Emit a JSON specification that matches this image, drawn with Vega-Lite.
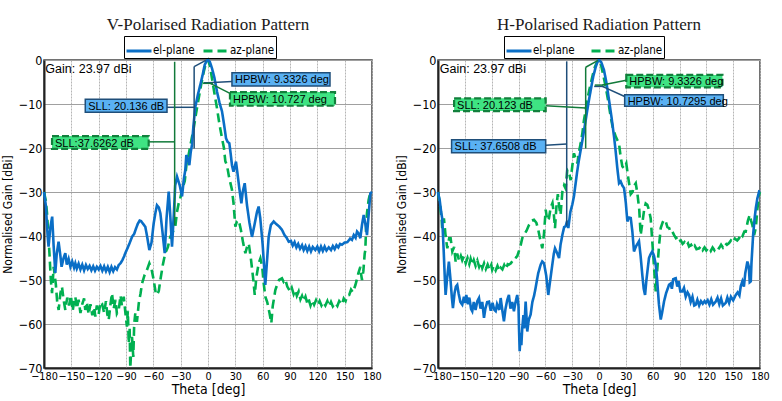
{
  "$schema": "https://vega.github.io/schema/vega-lite/v6.json",
  "background": "white",
  "padding": {"left": 0, "top": 14, "right": 5, "bottom": 0},
  "spacing": 11,
  "resolve": {"scale": {"color": "independent", "strokeDash": "independent"}, "legend": {"color": "independent", "strokeDash": "independent"}},
  "config": {
    "font": "Liberation Sans",
    "view": {"stroke": "#444", "strokeWidth": 1.5},
    "title": {"font": "Liberation Serif", "fontSize": 17, "fontWeight": "normal", "color": "#1a1a1a", "anchor": "middle", "offset": 2},
    "axisX": {"labelFont": "DejaVu Sans Condensed, Liberation Sans, sans-serif", "labelFontSize": 10.8, "labelColor": "#000", "tickSize": 0, "labelPadding": 2, "labelFlush": false, "labelOverlap": false, "domainColor": "#222", "domainWidth": 2, "gridColor": "#b5b5b5", "gridDash": [2, 1], "gridWidth": 1, "titleFont": "DejaVu Sans Condensed, Liberation Sans, sans-serif", "titleFontSize": 14, "titleFontWeight": "normal", "titleColor": "#000", "titlePadding": 2},
    "axisY": {"labelFont": "DejaVu Sans Condensed, Liberation Sans, sans-serif", "labelFontSize": 12.5, "labelColor": "#000", "tickSize": 0, "labelPadding": 2, "labelFlush": false, "labelOverlap": false, "domainColor": "#222", "domainWidth": 2, "gridColor": "#a0a0a0", "gridWidth": 1.2, "titleFont": "DejaVu Sans Condensed, Liberation Sans, sans-serif", "titleFontSize": 12, "titleFontWeight": "normal", "titleColor": "#000", "titlePadding": 4},
    "legend": {"title": null, "orient": "none", "direction": "horizontal", "strokeColor": "#000", "padding": 1, "labelFont": "DejaVu Sans Condensed, Liberation Sans, sans-serif", "labelFontSize": 11.5, "labelColor": "#000", "symbolSize": 625, "symbolStrokeWidth": 3, "labelOffset": 0}
  },
  "datasets": {
    "curves": [
      {"panel":"V","plane":"el-plane","theta":-180,"gain":-30},
      {"panel":"V","plane":"el-plane","theta":-178,"gain":-33},
      {"panel":"V","plane":"el-plane","theta":-176,"gain":-40},
      {"panel":"V","plane":"el-plane","theta":-175,"gain":-42.4},
      {"panel":"V","plane":"el-plane","theta":-173,"gain":-38},
      {"panel":"V","plane":"el-plane","theta":-171,"gain":-35.6},
      {"panel":"V","plane":"el-plane","theta":-169.5,"gain":-42},
      {"panel":"V","plane":"el-plane","theta":-167.6,"gain":-48.4},
      {"panel":"V","plane":"el-plane","theta":-166,"gain":-44},
      {"panel":"V","plane":"el-plane","theta":-164,"gain":-41.3},
      {"panel":"V","plane":"el-plane","theta":-162,"gain":-44.5},
      {"panel":"V","plane":"el-plane","theta":-160.7,"gain":-47},
      {"panel":"V","plane":"el-plane","theta":-158.5,"gain":-45},
      {"panel":"V","plane":"el-plane","theta":-156.6,"gain":-43.9},
      {"panel":"V","plane":"el-plane","theta":-155,"gain":-46.5},
      {"panel":"V","plane":"el-plane","theta":-153,"gain":-45.2},
      {"panel":"V","plane":"el-plane","theta":-151,"gain":-47},
      {"panel":"V","plane":"el-plane","theta":-149,"gain":-45.8},
      {"panel":"V","plane":"el-plane","theta":-147,"gain":-47.2},
      {"panel":"V","plane":"el-plane","theta":-145.6,"gain":-46.2},
      {"panel":"V","plane":"el-plane","theta":-144,"gain":-47.4},
      {"panel":"V","plane":"el-plane","theta":-142,"gain":-46.3},
      {"panel":"V","plane":"el-plane","theta":-140,"gain":-47.6},
      {"panel":"V","plane":"el-plane","theta":-138,"gain":-46.5},
      {"panel":"V","plane":"el-plane","theta":-136,"gain":-47.8},
      {"panel":"V","plane":"el-plane","theta":-134,"gain":-46.6},
      {"panel":"V","plane":"el-plane","theta":-132,"gain":-47.5},
      {"panel":"V","plane":"el-plane","theta":-130,"gain":-46.8},
      {"panel":"V","plane":"el-plane","theta":-128,"gain":-47.8},
      {"panel":"V","plane":"el-plane","theta":-126,"gain":-46.9},
      {"panel":"V","plane":"el-plane","theta":-124,"gain":-47.9},
      {"panel":"V","plane":"el-plane","theta":-122,"gain":-47},
      {"panel":"V","plane":"el-plane","theta":-120,"gain":-47.6},
      {"panel":"V","plane":"el-plane","theta":-118,"gain":-46.8},
      {"panel":"V","plane":"el-plane","theta":-116,"gain":-47.9},
      {"panel":"V","plane":"el-plane","theta":-114,"gain":-46.9},
      {"panel":"V","plane":"el-plane","theta":-112,"gain":-48},
      {"panel":"V","plane":"el-plane","theta":-110,"gain":-47},
      {"panel":"V","plane":"el-plane","theta":-108,"gain":-48.2},
      {"panel":"V","plane":"el-plane","theta":-106,"gain":-47},
      {"panel":"V","plane":"el-plane","theta":-104,"gain":-48},
      {"panel":"V","plane":"el-plane","theta":-102,"gain":-47.1},
      {"panel":"V","plane":"el-plane","theta":-100,"gain":-47.6},
      {"panel":"V","plane":"el-plane","theta":-98,"gain":-46.6},
      {"panel":"V","plane":"el-plane","theta":-96,"gain":-46.2},
      {"panel":"V","plane":"el-plane","theta":-94,"gain":-45.5},
      {"panel":"V","plane":"el-plane","theta":-92,"gain":-44.6},
      {"panel":"V","plane":"el-plane","theta":-90.8,"gain":-43.9},
      {"panel":"V","plane":"el-plane","theta":-88,"gain":-42.6},
      {"panel":"V","plane":"el-plane","theta":-86,"gain":-41.6},
      {"panel":"V","plane":"el-plane","theta":-83.4,"gain":-40.2},
      {"panel":"V","plane":"el-plane","theta":-81,"gain":-39.5},
      {"panel":"V","plane":"el-plane","theta":-79,"gain":-38.3},
      {"panel":"V","plane":"el-plane","theta":-77,"gain":-37.2},
      {"panel":"V","plane":"el-plane","theta":-75,"gain":-36.5},
      {"panel":"V","plane":"el-plane","theta":-73.5,"gain":-36.6},
      {"panel":"V","plane":"el-plane","theta":-71,"gain":-37.3},
      {"panel":"V","plane":"el-plane","theta":-68.8,"gain":-37.9},
      {"panel":"V","plane":"el-plane","theta":-66.5,"gain":-40.5},
      {"panel":"V","plane":"el-plane","theta":-64.4,"gain":-43.2},
      {"panel":"V","plane":"el-plane","theta":-62,"gain":-41.5},
      {"panel":"V","plane":"el-plane","theta":-59.6,"gain":-37.1},
      {"panel":"V","plane":"el-plane","theta":-57.5,"gain":-34.5},
      {"panel":"V","plane":"el-plane","theta":-56,"gain":-33},
      {"panel":"V","plane":"el-plane","theta":-54,"gain":-33.5},
      {"panel":"V","plane":"el-plane","theta":-52.3,"gain":-34.8},
      {"panel":"V","plane":"el-plane","theta":-50,"gain":-39},
      {"panel":"V","plane":"el-plane","theta":-47.5,"gain":-43.9},
      {"panel":"V","plane":"el-plane","theta":-45.5,"gain":-36},
      {"panel":"V","plane":"el-plane","theta":-43.1,"gain":-29.9},
      {"panel":"V","plane":"el-plane","theta":-41.5,"gain":-35},
      {"panel":"V","plane":"el-plane","theta":-39.5,"gain":-42.4},
      {"panel":"V","plane":"el-plane","theta":-37.5,"gain":-35},
      {"panel":"V","plane":"el-plane","theta":-36,"gain":-28.5},
      {"panel":"V","plane":"el-plane","theta":-34,"gain":-26.5},
      {"panel":"V","plane":"el-plane","theta":-31,"gain":-28.5},
      {"panel":"V","plane":"el-plane","theta":-28.5,"gain":-31},
      {"panel":"V","plane":"el-plane","theta":-26.5,"gain":-27},
      {"panel":"V","plane":"el-plane","theta":-24.9,"gain":-25},
      {"panel":"V","plane":"el-plane","theta":-23.8,"gain":-21.6},
      {"panel":"V","plane":"el-plane","theta":-22,"gain":-22.5},
      {"panel":"V","plane":"el-plane","theta":-20.5,"gain":-23.9},
      {"panel":"V","plane":"el-plane","theta":-19,"gain":-21},
      {"panel":"V","plane":"el-plane","theta":-17.6,"gain":-19.3},
      {"panel":"V","plane":"el-plane","theta":-16,"gain":-15},
      {"panel":"V","plane":"el-plane","theta":-13.9,"gain":-10.6},
      {"panel":"V","plane":"el-plane","theta":-11,"gain":-7.8},
      {"panel":"V","plane":"el-plane","theta":-8.5,"gain":-5.7},
      {"panel":"V","plane":"el-plane","theta":-6,"gain":-3.5},
      {"panel":"V","plane":"el-plane","theta":-3.6,"gain":-1.1},
      {"panel":"V","plane":"el-plane","theta":-1.5,"gain":-0.2},
      {"panel":"V","plane":"el-plane","theta":0,"gain":0},
      {"panel":"V","plane":"el-plane","theta":2,"gain":-0.4},
      {"panel":"V","plane":"el-plane","theta":4.4,"gain":-1.9},
      {"panel":"V","plane":"el-plane","theta":7,"gain":-4},
      {"panel":"V","plane":"el-plane","theta":9.9,"gain":-7.2},
      {"panel":"V","plane":"el-plane","theta":12.5,"gain":-9.6},
      {"panel":"V","plane":"el-plane","theta":15.4,"gain":-11.7},
      {"panel":"V","plane":"el-plane","theta":17.5,"gain":-14.5},
      {"panel":"V","plane":"el-plane","theta":19.8,"gain":-17.8},
      {"panel":"V","plane":"el-plane","theta":21.5,"gain":-18.6},
      {"panel":"V","plane":"el-plane","theta":23.4,"gain":-18.9},
      {"panel":"V","plane":"el-plane","theta":25,"gain":-21.5},
      {"panel":"V","plane":"el-plane","theta":26.3,"gain":-23.9},
      {"panel":"V","plane":"el-plane","theta":28,"gain":-25.4},
      {"panel":"V","plane":"el-plane","theta":30.7,"gain":-23.1},
      {"panel":"V","plane":"el-plane","theta":32.5,"gain":-26},
      {"panel":"V","plane":"el-plane","theta":34.4,"gain":-29.2},
      {"panel":"V","plane":"el-plane","theta":36.6,"gain":-32.6},
      {"panel":"V","plane":"el-plane","theta":38.1,"gain":-30},
      {"panel":"V","plane":"el-plane","theta":40.3,"gain":-28},
      {"panel":"V","plane":"el-plane","theta":42.8,"gain":-33},
      {"panel":"V","plane":"el-plane","theta":45.5,"gain":-37},
      {"panel":"V","plane":"el-plane","theta":48.3,"gain":-40.2},
      {"panel":"V","plane":"el-plane","theta":50.5,"gain":-38},
      {"panel":"V","plane":"el-plane","theta":53.8,"gain":-34.5},
      {"panel":"V","plane":"el-plane","theta":55.6,"gain":-33.3},
      {"panel":"V","plane":"el-plane","theta":57.4,"gain":-36},
      {"panel":"V","plane":"el-plane","theta":60,"gain":-42},
      {"panel":"V","plane":"el-plane","theta":62.9,"gain":-51.1},
      {"panel":"V","plane":"el-plane","theta":65,"gain":-45},
      {"panel":"V","plane":"el-plane","theta":66.6,"gain":-40.2},
      {"panel":"V","plane":"el-plane","theta":69,"gain":-37.5},
      {"panel":"V","plane":"el-plane","theta":72.1,"gain":-36.7},
      {"panel":"V","plane":"el-plane","theta":75,"gain":-37.3},
      {"panel":"V","plane":"el-plane","theta":78,"gain":-37.8},
      {"panel":"V","plane":"el-plane","theta":81.2,"gain":-38.6},
      {"panel":"V","plane":"el-plane","theta":84,"gain":-39.8},
      {"panel":"V","plane":"el-plane","theta":86,"gain":-40.3},
      {"panel":"V","plane":"el-plane","theta":88.6,"gain":-41.3},
      {"panel":"V","plane":"el-plane","theta":91,"gain":-41.1},
      {"panel":"V","plane":"el-plane","theta":93,"gain":-42.2},
      {"panel":"V","plane":"el-plane","theta":95,"gain":-41.4},
      {"panel":"V","plane":"el-plane","theta":97,"gain":-42.6},
      {"panel":"V","plane":"el-plane","theta":99,"gain":-41.8},
      {"panel":"V","plane":"el-plane","theta":101,"gain":-42.9},
      {"panel":"V","plane":"el-plane","theta":103.2,"gain":-42.1},
      {"panel":"V","plane":"el-plane","theta":105,"gain":-43.2},
      {"panel":"V","plane":"el-plane","theta":107,"gain":-42.3},
      {"panel":"V","plane":"el-plane","theta":109,"gain":-43.4},
      {"panel":"V","plane":"el-plane","theta":111,"gain":-42.4},
      {"panel":"V","plane":"el-plane","theta":113,"gain":-43.5},
      {"panel":"V","plane":"el-plane","theta":115,"gain":-42.5},
      {"panel":"V","plane":"el-plane","theta":117.8,"gain":-43.2},
      {"panel":"V","plane":"el-plane","theta":120,"gain":-42.4},
      {"panel":"V","plane":"el-plane","theta":122,"gain":-43.5},
      {"panel":"V","plane":"el-plane","theta":124,"gain":-42.4},
      {"panel":"V","plane":"el-plane","theta":126,"gain":-43.4},
      {"panel":"V","plane":"el-plane","theta":128,"gain":-42.4},
      {"panel":"V","plane":"el-plane","theta":130,"gain":-43.3},
      {"panel":"V","plane":"el-plane","theta":132.5,"gain":-42.6},
      {"panel":"V","plane":"el-plane","theta":135,"gain":-43.2},
      {"panel":"V","plane":"el-plane","theta":137,"gain":-42.3},
      {"panel":"V","plane":"el-plane","theta":139,"gain":-43},
      {"panel":"V","plane":"el-plane","theta":141,"gain":-42.1},
      {"panel":"V","plane":"el-plane","theta":143,"gain":-42.6},
      {"panel":"V","plane":"el-plane","theta":145,"gain":-41.8},
      {"panel":"V","plane":"el-plane","theta":147,"gain":-42},
      {"panel":"V","plane":"el-plane","theta":150,"gain":-41.5},
      {"panel":"V","plane":"el-plane","theta":153,"gain":-41.4},
      {"panel":"V","plane":"el-plane","theta":156,"gain":-40.6},
      {"panel":"V","plane":"el-plane","theta":158,"gain":-40.9},
      {"panel":"V","plane":"el-plane","theta":160,"gain":-39.8},
      {"panel":"V","plane":"el-plane","theta":162,"gain":-40.4},
      {"panel":"V","plane":"el-plane","theta":163.6,"gain":-39},
      {"panel":"V","plane":"el-plane","theta":165.5,"gain":-39.5},
      {"panel":"V","plane":"el-plane","theta":167.2,"gain":-40.5},
      {"panel":"V","plane":"el-plane","theta":169,"gain":-37.5},
      {"panel":"V","plane":"el-plane","theta":170.9,"gain":-35.2},
      {"panel":"V","plane":"el-plane","theta":172.5,"gain":-37},
      {"panel":"V","plane":"el-plane","theta":174.5,"gain":-39.8},
      {"panel":"V","plane":"el-plane","theta":176,"gain":-36},
      {"panel":"V","plane":"el-plane","theta":178.2,"gain":-30.3},
      {"panel":"V","plane":"el-plane","theta":180,"gain":-30},

      {"panel":"V","plane":"az-plane","theta":-180,"gain":-30},
      {"panel":"V","plane":"az-plane","theta":-178,"gain":-32},
      {"panel":"V","plane":"az-plane","theta":-176.7,"gain":-34.8},
      {"panel":"V","plane":"az-plane","theta":-174,"gain":-44},
      {"panel":"V","plane":"az-plane","theta":-172.5,"gain":-50},
      {"panel":"V","plane":"az-plane","theta":-171.2,"gain":-53},
      {"panel":"V","plane":"az-plane","theta":-169.4,"gain":-47},
      {"panel":"V","plane":"az-plane","theta":-167,"gain":-51},
      {"panel":"V","plane":"az-plane","theta":-165.5,"gain":-55},
      {"panel":"V","plane":"az-plane","theta":-163.9,"gain":-56.8},
      {"panel":"V","plane":"az-plane","theta":-162,"gain":-53},
      {"panel":"V","plane":"az-plane","theta":-160.3,"gain":-51.5},
      {"panel":"V","plane":"az-plane","theta":-158.5,"gain":-54.5},
      {"panel":"V","plane":"az-plane","theta":-156.6,"gain":-56.8},
      {"panel":"V","plane":"az-plane","theta":-154.5,"gain":-54},
      {"panel":"V","plane":"az-plane","theta":-152.5,"gain":-55.8},
      {"panel":"V","plane":"az-plane","theta":-150.5,"gain":-53.5},
      {"panel":"V","plane":"az-plane","theta":-148.5,"gain":-57},
      {"panel":"V","plane":"az-plane","theta":-147,"gain":-55},
      {"panel":"V","plane":"az-plane","theta":-145.6,"gain":-53.8},
      {"panel":"V","plane":"az-plane","theta":-144,"gain":-56.5},
      {"panel":"V","plane":"az-plane","theta":-142,"gain":-54.5},
      {"panel":"V","plane":"az-plane","theta":-140,"gain":-57.5},
      {"panel":"V","plane":"az-plane","theta":-138,"gain":-55.5},
      {"panel":"V","plane":"az-plane","theta":-136,"gain":-54.2},
      {"panel":"V","plane":"az-plane","theta":-134.7,"gain":-56.8},
      {"panel":"V","plane":"az-plane","theta":-133,"gain":-55},
      {"panel":"V","plane":"az-plane","theta":-131,"gain":-57.8},
      {"panel":"V","plane":"az-plane","theta":-129,"gain":-55.5},
      {"panel":"V","plane":"az-plane","theta":-127,"gain":-58},
      {"panel":"V","plane":"az-plane","theta":-125,"gain":-56.2},
      {"panel":"V","plane":"az-plane","theta":-123.7,"gain":-58.3},
      {"panel":"V","plane":"az-plane","theta":-122,"gain":-55.8},
      {"panel":"V","plane":"az-plane","theta":-120,"gain":-57.8},
      {"panel":"V","plane":"az-plane","theta":-118,"gain":-55},
      {"panel":"V","plane":"az-plane","theta":-116.4,"gain":-55.3},
      {"panel":"V","plane":"az-plane","theta":-114,"gain":-57.5},
      {"panel":"V","plane":"az-plane","theta":-112,"gain":-54.8},
      {"panel":"V","plane":"az-plane","theta":-110.5,"gain":-57.8},
      {"panel":"V","plane":"az-plane","theta":-109,"gain":-59.1},
      {"panel":"V","plane":"az-plane","theta":-107,"gain":-55.5},
      {"panel":"V","plane":"az-plane","theta":-105.4,"gain":-53},
      {"panel":"V","plane":"az-plane","theta":-103.5,"gain":-56.5},
      {"panel":"V","plane":"az-plane","theta":-101.5,"gain":-54.5},
      {"panel":"V","plane":"az-plane","theta":-100,"gain":-57.6},
      {"panel":"V","plane":"az-plane","theta":-98,"gain":-56.8},
      {"panel":"V","plane":"az-plane","theta":-96,"gain":-53.5},
      {"panel":"V","plane":"az-plane","theta":-94.5,"gain":-55.8},
      {"panel":"V","plane":"az-plane","theta":-92.5,"gain":-53.8},
      {"panel":"V","plane":"az-plane","theta":-90.5,"gain":-57.8},
      {"panel":"V","plane":"az-plane","theta":-89,"gain":-60.6},
      {"panel":"V","plane":"az-plane","theta":-88,"gain":-57},
      {"panel":"V","plane":"az-plane","theta":-87,"gain":-64.4},
      {"panel":"V","plane":"az-plane","theta":-86,"gain":-61},
      {"panel":"V","plane":"az-plane","theta":-85.3,"gain":-70},
      {"panel":"V","plane":"az-plane","theta":-84.3,"gain":-66},
      {"panel":"V","plane":"az-plane","theta":-83.4,"gain":-62.9},
      {"panel":"V","plane":"az-plane","theta":-82,"gain":-67.5},
      {"panel":"V","plane":"az-plane","theta":-81,"gain":-60},
      {"panel":"V","plane":"az-plane","theta":-79.8,"gain":-57.6},
      {"panel":"V","plane":"az-plane","theta":-78,"gain":-59.5},
      {"panel":"V","plane":"az-plane","theta":-76,"gain":-55.3},
      {"panel":"V","plane":"az-plane","theta":-74,"gain":-53},
      {"panel":"V","plane":"az-plane","theta":-72.4,"gain":-50.8},
      {"panel":"V","plane":"az-plane","theta":-69.5,"gain":-48.8},
      {"panel":"V","plane":"az-plane","theta":-67,"gain":-47.7},
      {"panel":"V","plane":"az-plane","theta":-64.4,"gain":-46.2},
      {"panel":"V","plane":"az-plane","theta":-62,"gain":-47.5},
      {"panel":"V","plane":"az-plane","theta":-59.6,"gain":-50},
      {"panel":"V","plane":"az-plane","theta":-57.5,"gain":-52.8},
      {"panel":"V","plane":"az-plane","theta":-56,"gain":-53.4},
      {"panel":"V","plane":"az-plane","theta":-54,"gain":-52.5},
      {"panel":"V","plane":"az-plane","theta":-52.3,"gain":-50},
      {"panel":"V","plane":"az-plane","theta":-49.5,"gain":-46.5},
      {"panel":"V","plane":"az-plane","theta":-46.9,"gain":-43.9},
      {"panel":"V","plane":"az-plane","theta":-44,"gain":-42.5},
      {"panel":"V","plane":"az-plane","theta":-41.4,"gain":-40.2},
      {"panel":"V","plane":"az-plane","theta":-38.5,"gain":-39},
      {"panel":"V","plane":"az-plane","theta":-35.9,"gain":-37.9},
      {"panel":"V","plane":"az-plane","theta":-34,"gain":-34.5},
      {"panel":"V","plane":"az-plane","theta":-32.2,"gain":-32.6},
      {"panel":"V","plane":"az-plane","theta":-30.5,"gain":-31.5},
      {"panel":"V","plane":"az-plane","theta":-28.5,"gain":-29.5},
      {"panel":"V","plane":"az-plane","theta":-25.5,"gain":-27.5},
      {"panel":"V","plane":"az-plane","theta":-23,"gain":-22.5},
      {"panel":"V","plane":"az-plane","theta":-21.2,"gain":-21.5},
      {"panel":"V","plane":"az-plane","theta":-18.5,"gain":-18.5},
      {"panel":"V","plane":"az-plane","theta":-15.7,"gain":-15.5},
      {"panel":"V","plane":"az-plane","theta":-13,"gain":-12},
      {"panel":"V","plane":"az-plane","theta":-10.2,"gain":-8.7},
      {"panel":"V","plane":"az-plane","theta":-7.5,"gain":-5.6},
      {"panel":"V","plane":"az-plane","theta":-4.7,"gain":-2.7},
      {"panel":"V","plane":"az-plane","theta":-2.3,"gain":-0.7},
      {"panel":"V","plane":"az-plane","theta":0,"gain":0},
      {"panel":"V","plane":"az-plane","theta":2,"gain":-1.2},
      {"panel":"V","plane":"az-plane","theta":4.4,"gain":-4.2},
      {"panel":"V","plane":"az-plane","theta":7,"gain":-7.5},
      {"panel":"V","plane":"az-plane","theta":9.9,"gain":-11},
      {"panel":"V","plane":"az-plane","theta":12.5,"gain":-14.5},
      {"panel":"V","plane":"az-plane","theta":15.4,"gain":-17.8},
      {"panel":"V","plane":"az-plane","theta":17.5,"gain":-20},
      {"panel":"V","plane":"az-plane","theta":19,"gain":-23},
      {"panel":"V","plane":"az-plane","theta":20.9,"gain":-24},
      {"panel":"V","plane":"az-plane","theta":23,"gain":-26.5},
      {"panel":"V","plane":"az-plane","theta":26.3,"gain":-29.5},
      {"panel":"V","plane":"az-plane","theta":28,"gain":-32.5},
      {"panel":"V","plane":"az-plane","theta":30,"gain":-37.9},
      {"panel":"V","plane":"az-plane","theta":31.5,"gain":-36.8},
      {"panel":"V","plane":"az-plane","theta":33.7,"gain":-36.4},
      {"panel":"V","plane":"az-plane","theta":36,"gain":-38.5},
      {"panel":"V","plane":"az-plane","theta":38.5,"gain":-41.5},
      {"panel":"V","plane":"az-plane","theta":41,"gain":-43.9},
      {"panel":"V","plane":"az-plane","theta":42.8,"gain":-42.5},
      {"panel":"V","plane":"az-plane","theta":44.7,"gain":-41.7},
      {"panel":"V","plane":"az-plane","theta":47,"gain":-45},
      {"panel":"V","plane":"az-plane","theta":49.5,"gain":-49.5},
      {"panel":"V","plane":"az-plane","theta":51.3,"gain":-53.4},
      {"panel":"V","plane":"az-plane","theta":53,"gain":-49.5},
      {"panel":"V","plane":"az-plane","theta":55.6,"gain":-46.2},
      {"panel":"V","plane":"az-plane","theta":57.5,"gain":-45.1},
      {"panel":"V","plane":"az-plane","theta":59.5,"gain":-47},
      {"panel":"V","plane":"az-plane","theta":61,"gain":-50.5},
      {"panel":"V","plane":"az-plane","theta":62.9,"gain":-53.8},
      {"panel":"V","plane":"az-plane","theta":65,"gain":-55},
      {"panel":"V","plane":"az-plane","theta":67.5,"gain":-57.5},
      {"panel":"V","plane":"az-plane","theta":69.5,"gain":-59.8},
      {"panel":"V","plane":"az-plane","theta":71,"gain":-56},
      {"panel":"V","plane":"az-plane","theta":73.9,"gain":-52.3},
      {"panel":"V","plane":"az-plane","theta":76,"gain":-51},
      {"panel":"V","plane":"az-plane","theta":78,"gain":-50},
      {"panel":"V","plane":"az-plane","theta":81.2,"gain":-49.6},
      {"panel":"V","plane":"az-plane","theta":83,"gain":-50.4},
      {"panel":"V","plane":"az-plane","theta":84.9,"gain":-49.9},
      {"panel":"V","plane":"az-plane","theta":87,"gain":-51.5},
      {"panel":"V","plane":"az-plane","theta":88.5,"gain":-52},
      {"panel":"V","plane":"az-plane","theta":90.3,"gain":-52.7},
      {"panel":"V","plane":"az-plane","theta":92,"gain":-51.8},
      {"panel":"V","plane":"az-plane","theta":94,"gain":-53.2},
      {"panel":"V","plane":"az-plane","theta":95.8,"gain":-52.3},
      {"panel":"V","plane":"az-plane","theta":97.5,"gain":-53.6},
      {"panel":"V","plane":"az-plane","theta":99.5,"gain":-52.6},
      {"panel":"V","plane":"az-plane","theta":101.5,"gain":-54.4},
      {"panel":"V","plane":"az-plane","theta":103.2,"gain":-53.6},
      {"panel":"V","plane":"az-plane","theta":105,"gain":-54.8},
      {"panel":"V","plane":"az-plane","theta":107,"gain":-53.8},
      {"panel":"V","plane":"az-plane","theta":109,"gain":-55.3},
      {"panel":"V","plane":"az-plane","theta":110.5,"gain":-54.4},
      {"panel":"V","plane":"az-plane","theta":112.5,"gain":-55.8},
      {"panel":"V","plane":"az-plane","theta":114.5,"gain":-54.6},
      {"panel":"V","plane":"az-plane","theta":116.5,"gain":-55.6},
      {"panel":"V","plane":"az-plane","theta":118.5,"gain":-54.6},
      {"panel":"V","plane":"az-plane","theta":120.5,"gain":-55.7},
      {"panel":"V","plane":"az-plane","theta":122.5,"gain":-54.8},
      {"panel":"V","plane":"az-plane","theta":124.5,"gain":-55.8},
      {"panel":"V","plane":"az-plane","theta":126.5,"gain":-55},
      {"panel":"V","plane":"az-plane","theta":128.8,"gain":-55.8},
      {"panel":"V","plane":"az-plane","theta":131,"gain":-54.8},
      {"panel":"V","plane":"az-plane","theta":133,"gain":-56},
      {"panel":"V","plane":"az-plane","theta":135,"gain":-55},
      {"panel":"V","plane":"az-plane","theta":137,"gain":-56},
      {"panel":"V","plane":"az-plane","theta":139.7,"gain":-55.2},
      {"panel":"V","plane":"az-plane","theta":142,"gain":-55.9},
      {"panel":"V","plane":"az-plane","theta":144,"gain":-54.8},
      {"panel":"V","plane":"az-plane","theta":147,"gain":-55.6},
      {"panel":"V","plane":"az-plane","theta":149,"gain":-54.2},
      {"panel":"V","plane":"az-plane","theta":151,"gain":-54.8},
      {"panel":"V","plane":"az-plane","theta":153,"gain":-53.5},
      {"panel":"V","plane":"az-plane","theta":155,"gain":-53.4},
      {"panel":"V","plane":"az-plane","theta":157,"gain":-52.2},
      {"panel":"V","plane":"az-plane","theta":159,"gain":-52.8},
      {"panel":"V","plane":"az-plane","theta":161.7,"gain":-51.2},
      {"panel":"V","plane":"az-plane","theta":163.5,"gain":-49.8},
      {"panel":"V","plane":"az-plane","theta":165,"gain":-48.5},
      {"panel":"V","plane":"az-plane","theta":167.2,"gain":-47},
      {"panel":"V","plane":"az-plane","theta":168,"gain":-48.6},
      {"panel":"V","plane":"az-plane","theta":169,"gain":-50},
      {"panel":"V","plane":"az-plane","theta":170.5,"gain":-48},
      {"panel":"V","plane":"az-plane","theta":172,"gain":-44},
      {"panel":"V","plane":"az-plane","theta":172.7,"gain":-43.2},
      {"panel":"V","plane":"az-plane","theta":173.5,"gain":-38},
      {"panel":"V","plane":"az-plane","theta":174.5,"gain":-34.8},
      {"panel":"V","plane":"az-plane","theta":176.3,"gain":-31.8},
      {"panel":"V","plane":"az-plane","theta":178,"gain":-30.3},
      {"panel":"V","plane":"az-plane","theta":180,"gain":-30},

      {"panel":"H","plane":"el-plane","theta":-180,"gain":-30},
      {"panel":"H","plane":"el-plane","theta":-178,"gain":-32},
      {"panel":"H","plane":"el-plane","theta":-176.5,"gain":-34.5},
      {"panel":"H","plane":"el-plane","theta":-175.3,"gain":-36},
      {"panel":"H","plane":"el-plane","theta":-173.5,"gain":-44},
      {"panel":"H","plane":"el-plane","theta":-172.3,"gain":-50},
      {"panel":"H","plane":"el-plane","theta":-171.5,"gain":-53.4},
      {"panel":"H","plane":"el-plane","theta":-170,"gain":-50},
      {"panel":"H","plane":"el-plane","theta":-167.8,"gain":-45.8},
      {"panel":"H","plane":"el-plane","theta":-166,"gain":-50},
      {"panel":"H","plane":"el-plane","theta":-164.5,"gain":-54},
      {"panel":"H","plane":"el-plane","theta":-163.3,"gain":-56.4},
      {"panel":"H","plane":"el-plane","theta":-161.5,"gain":-53},
      {"panel":"H","plane":"el-plane","theta":-160,"gain":-51.5},
      {"panel":"H","plane":"el-plane","theta":-158.5,"gain":-51.1},
      {"panel":"H","plane":"el-plane","theta":-157,"gain":-53},
      {"panel":"H","plane":"el-plane","theta":-155,"gain":-55},
      {"panel":"H","plane":"el-plane","theta":-152.9,"gain":-55.6},
      {"panel":"H","plane":"el-plane","theta":-151,"gain":-53.8},
      {"panel":"H","plane":"el-plane","theta":-149.5,"gain":-55.2},
      {"panel":"H","plane":"el-plane","theta":-148.4,"gain":-53.4},
      {"panel":"H","plane":"el-plane","theta":-146.5,"gain":-55.5},
      {"panel":"H","plane":"el-plane","theta":-145,"gain":-54},
      {"panel":"H","plane":"el-plane","theta":-143,"gain":-56.6},
      {"panel":"H","plane":"el-plane","theta":-141.7,"gain":-57.1},
      {"panel":"H","plane":"el-plane","theta":-140,"gain":-55},
      {"panel":"H","plane":"el-plane","theta":-138,"gain":-56.8},
      {"panel":"H","plane":"el-plane","theta":-136,"gain":-54.8},
      {"panel":"H","plane":"el-plane","theta":-134.2,"gain":-54.1},
      {"panel":"H","plane":"el-plane","theta":-132.5,"gain":-56.5},
      {"panel":"H","plane":"el-plane","theta":-130.5,"gain":-55},
      {"panel":"H","plane":"el-plane","theta":-128.6,"gain":-58.6},
      {"panel":"H","plane":"el-plane","theta":-127,"gain":-56.5},
      {"panel":"H","plane":"el-plane","theta":-125,"gain":-55},
      {"panel":"H","plane":"el-plane","theta":-123,"gain":-54.9},
      {"panel":"H","plane":"el-plane","theta":-121,"gain":-57},
      {"panel":"H","plane":"el-plane","theta":-119,"gain":-55.2},
      {"panel":"H","plane":"el-plane","theta":-117,"gain":-56.8},
      {"panel":"H","plane":"el-plane","theta":-115.5,"gain":-57.1},
      {"panel":"H","plane":"el-plane","theta":-114,"gain":-55.5},
      {"panel":"H","plane":"el-plane","theta":-111.5,"gain":-56.8},
      {"panel":"H","plane":"el-plane","theta":-109.9,"gain":-54.1},
      {"panel":"H","plane":"el-plane","theta":-108,"gain":-57},
      {"panel":"H","plane":"el-plane","theta":-106.3,"gain":-59.4},
      {"panel":"H","plane":"el-plane","theta":-104.5,"gain":-56.5},
      {"panel":"H","plane":"el-plane","theta":-102.5,"gain":-54.5},
      {"panel":"H","plane":"el-plane","theta":-100.7,"gain":-53.4},
      {"panel":"H","plane":"el-plane","theta":-99,"gain":-56.5},
      {"panel":"H","plane":"el-plane","theta":-97,"gain":-55},
      {"panel":"H","plane":"el-plane","theta":-95.1,"gain":-57.1},
      {"panel":"H","plane":"el-plane","theta":-93.5,"gain":-55.2},
      {"panel":"H","plane":"el-plane","theta":-91.4,"gain":-53.4},
      {"panel":"H","plane":"el-plane","theta":-90,"gain":-56},
      {"panel":"H","plane":"el-plane","theta":-89.5,"gain":-60.5},
      {"panel":"H","plane":"el-plane","theta":-88.7,"gain":-66.2},
      {"panel":"H","plane":"el-plane","theta":-87.5,"gain":-62},
      {"panel":"H","plane":"el-plane","theta":-86.8,"gain":-64.8},
      {"panel":"H","plane":"el-plane","theta":-85.8,"gain":-60.9},
      {"panel":"H","plane":"el-plane","theta":-84.5,"gain":-58},
      {"panel":"H","plane":"el-plane","theta":-83.5,"gain":-61},
      {"panel":"H","plane":"el-plane","theta":-82,"gain":-54.9},
      {"panel":"H","plane":"el-plane","theta":-81,"gain":-58.5},
      {"panel":"H","plane":"el-plane","theta":-80.2,"gain":-61.7},
      {"panel":"H","plane":"el-plane","theta":-78.5,"gain":-59},
      {"panel":"H","plane":"el-plane","theta":-76.5,"gain":-57.9},
      {"panel":"H","plane":"el-plane","theta":-74.5,"gain":-55},
      {"panel":"H","plane":"el-plane","theta":-72.5,"gain":-53.5},
      {"panel":"H","plane":"el-plane","theta":-70.9,"gain":-51.8},
      {"panel":"H","plane":"el-plane","theta":-68,"gain":-48.5},
      {"panel":"H","plane":"el-plane","theta":-65.2,"gain":-46.5},
      {"panel":"H","plane":"el-plane","theta":-63.5,"gain":-45.8},
      {"panel":"H","plane":"el-plane","theta":-61.5,"gain":-46.2},
      {"panel":"H","plane":"el-plane","theta":-59,"gain":-49},
      {"panel":"H","plane":"el-plane","theta":-56.7,"gain":-53.4},
      {"panel":"H","plane":"el-plane","theta":-54.5,"gain":-50},
      {"panel":"H","plane":"el-plane","theta":-52.2,"gain":-46.5},
      {"panel":"H","plane":"el-plane","theta":-50.5,"gain":-44},
      {"panel":"H","plane":"el-plane","theta":-49.2,"gain":-42.8},
      {"panel":"H","plane":"el-plane","theta":-47,"gain":-43.8},
      {"panel":"H","plane":"el-plane","theta":-44.7,"gain":-45},
      {"panel":"H","plane":"el-plane","theta":-43,"gain":-42},
      {"panel":"H","plane":"el-plane","theta":-41,"gain":-39.8},
      {"panel":"H","plane":"el-plane","theta":-39,"gain":-38},
      {"panel":"H","plane":"el-plane","theta":-37.3,"gain":-37.8},
      {"panel":"H","plane":"el-plane","theta":-35.5,"gain":-36.5},
      {"panel":"H","plane":"el-plane","theta":-34.3,"gain":-38.2},
      {"panel":"H","plane":"el-plane","theta":-32,"gain":-34.5},
      {"panel":"H","plane":"el-plane","theta":-29.9,"gain":-32.9},
      {"panel":"H","plane":"el-plane","theta":-28,"gain":-31},
      {"panel":"H","plane":"el-plane","theta":-26.1,"gain":-28},
      {"panel":"H","plane":"el-plane","theta":-24.5,"gain":-25.5},
      {"panel":"H","plane":"el-plane","theta":-22.5,"gain":-22.8},
      {"panel":"H","plane":"el-plane","theta":-20.5,"gain":-20.5},
      {"panel":"H","plane":"el-plane","theta":-17.5,"gain":-17},
      {"panel":"H","plane":"el-plane","theta":-14.9,"gain":-13.7},
      {"panel":"H","plane":"el-plane","theta":-12,"gain":-10},
      {"panel":"H","plane":"el-plane","theta":-9.3,"gain":-6.9},
      {"panel":"H","plane":"el-plane","theta":-6.5,"gain":-3.8},
      {"panel":"H","plane":"el-plane","theta":-3.7,"gain":-1.6},
      {"panel":"H","plane":"el-plane","theta":-1.5,"gain":-0.3},
      {"panel":"H","plane":"el-plane","theta":0,"gain":0},
      {"panel":"H","plane":"el-plane","theta":2.5,"gain":-0.5},
      {"panel":"H","plane":"el-plane","theta":5.6,"gain":-2.3},
      {"panel":"H","plane":"el-plane","theta":8.5,"gain":-5.4},
      {"panel":"H","plane":"el-plane","theta":11.2,"gain":-9.1},
      {"panel":"H","plane":"el-plane","theta":14,"gain":-13},
      {"panel":"H","plane":"el-plane","theta":16.8,"gain":-17.4},
      {"panel":"H","plane":"el-plane","theta":18.5,"gain":-20.5},
      {"panel":"H","plane":"el-plane","theta":20.5,"gain":-24.6},
      {"panel":"H","plane":"el-plane","theta":22.4,"gain":-28},
      {"panel":"H","plane":"el-plane","theta":24.2,"gain":-27.6},
      {"panel":"H","plane":"el-plane","theta":26,"gain":-28.5},
      {"panel":"H","plane":"el-plane","theta":28,"gain":-29.1},
      {"panel":"H","plane":"el-plane","theta":30,"gain":-32.5},
      {"panel":"H","plane":"el-plane","theta":31.7,"gain":-36.7},
      {"panel":"H","plane":"el-plane","theta":33.5,"gain":-35.8},
      {"panel":"H","plane":"el-plane","theta":35.5,"gain":-35.9},
      {"panel":"H","plane":"el-plane","theta":37.3,"gain":-39},
      {"panel":"H","plane":"el-plane","theta":39.1,"gain":-43.5},
      {"panel":"H","plane":"el-plane","theta":41.5,"gain":-42.3},
      {"panel":"H","plane":"el-plane","theta":44.7,"gain":-41.2},
      {"panel":"H","plane":"el-plane","theta":46.5,"gain":-44.5},
      {"panel":"H","plane":"el-plane","theta":48.5,"gain":-49},
      {"panel":"H","plane":"el-plane","theta":50,"gain":-52},
      {"panel":"H","plane":"el-plane","theta":51.5,"gain":-53.4},
      {"panel":"H","plane":"el-plane","theta":53,"gain":-50},
      {"panel":"H","plane":"el-plane","theta":55.9,"gain":-45},
      {"panel":"H","plane":"el-plane","theta":57.5,"gain":-44.2},
      {"panel":"H","plane":"el-plane","theta":59.6,"gain":-43.5},
      {"panel":"H","plane":"el-plane","theta":61.5,"gain":-44.5},
      {"panel":"H","plane":"el-plane","theta":63.4,"gain":-46.5},
      {"panel":"H","plane":"el-plane","theta":65,"gain":-50},
      {"panel":"H","plane":"el-plane","theta":67,"gain":-55.5},
      {"panel":"H","plane":"el-plane","theta":69,"gain":-59},
      {"panel":"H","plane":"el-plane","theta":70.5,"gain":-57.5},
      {"panel":"H","plane":"el-plane","theta":72.7,"gain":-54.9},
      {"panel":"H","plane":"el-plane","theta":75,"gain":-53},
      {"panel":"H","plane":"el-plane","theta":78.3,"gain":-51.1},
      {"panel":"H","plane":"el-plane","theta":80,"gain":-50.8},
      {"panel":"H","plane":"el-plane","theta":81.5,"gain":-52},
      {"panel":"H","plane":"el-plane","theta":83,"gain":-49.8},
      {"panel":"H","plane":"el-plane","theta":85.8,"gain":-49.6},
      {"panel":"H","plane":"el-plane","theta":87.5,"gain":-51.5},
      {"panel":"H","plane":"el-plane","theta":89,"gain":-50.3},
      {"panel":"H","plane":"el-plane","theta":91,"gain":-52.6},
      {"panel":"H","plane":"el-plane","theta":93.2,"gain":-52.6},
      {"panel":"H","plane":"el-plane","theta":95,"gain":-51.8},
      {"panel":"H","plane":"el-plane","theta":97,"gain":-53.8},
      {"panel":"H","plane":"el-plane","theta":99,"gain":-52.8},
      {"panel":"H","plane":"el-plane","theta":100.7,"gain":-53.4},
      {"panel":"H","plane":"el-plane","theta":102.5,"gain":-55},
      {"panel":"H","plane":"el-plane","theta":104.5,"gain":-53.8},
      {"panel":"H","plane":"el-plane","theta":106.5,"gain":-55.8},
      {"panel":"H","plane":"el-plane","theta":108.2,"gain":-55.6},
      {"panel":"H","plane":"el-plane","theta":110,"gain":-54.5},
      {"panel":"H","plane":"el-plane","theta":112,"gain":-55.8},
      {"panel":"H","plane":"el-plane","theta":114,"gain":-54.8},
      {"panel":"H","plane":"el-plane","theta":116,"gain":-55.4},
      {"panel":"H","plane":"el-plane","theta":118,"gain":-54.8},
      {"panel":"H","plane":"el-plane","theta":119.4,"gain":-55.2},
      {"panel":"H","plane":"el-plane","theta":121.5,"gain":-54.6},
      {"panel":"H","plane":"el-plane","theta":123.5,"gain":-55.6},
      {"panel":"H","plane":"el-plane","theta":125.5,"gain":-54.4},
      {"panel":"H","plane":"el-plane","theta":127.5,"gain":-55.6},
      {"panel":"H","plane":"el-plane","theta":130.5,"gain":-54.9},
      {"panel":"H","plane":"el-plane","theta":132.5,"gain":-54},
      {"panel":"H","plane":"el-plane","theta":134.5,"gain":-55.5},
      {"panel":"H","plane":"el-plane","theta":136.5,"gain":-54.2},
      {"panel":"H","plane":"el-plane","theta":138.5,"gain":-55.8},
      {"panel":"H","plane":"el-plane","theta":141.7,"gain":-55.2},
      {"panel":"H","plane":"el-plane","theta":143.5,"gain":-54},
      {"panel":"H","plane":"el-plane","theta":145.5,"gain":-55.2},
      {"panel":"H","plane":"el-plane","theta":147.5,"gain":-53.8},
      {"panel":"H","plane":"el-plane","theta":150,"gain":-54.6},
      {"panel":"H","plane":"el-plane","theta":152.9,"gain":-53.4},
      {"panel":"H","plane":"el-plane","theta":155,"gain":-52.8},
      {"panel":"H","plane":"el-plane","theta":157,"gain":-53.5},
      {"panel":"H","plane":"el-plane","theta":158.5,"gain":-51.4},
      {"panel":"H","plane":"el-plane","theta":160.3,"gain":-50.3},
      {"panel":"H","plane":"el-plane","theta":162,"gain":-51.5},
      {"panel":"H","plane":"el-plane","theta":163.5,"gain":-48.5},
      {"panel":"H","plane":"el-plane","theta":165.9,"gain":-45.8},
      {"panel":"H","plane":"el-plane","theta":167.5,"gain":-47},
      {"panel":"H","plane":"el-plane","theta":168.5,"gain":-50.5},
      {"panel":"H","plane":"el-plane","theta":169.7,"gain":-50.3},
      {"panel":"H","plane":"el-plane","theta":170.5,"gain":-46},
      {"panel":"H","plane":"el-plane","theta":172.3,"gain":-39.8},
      {"panel":"H","plane":"el-plane","theta":174,"gain":-36},
      {"panel":"H","plane":"el-plane","theta":175.3,"gain":-33.7},
      {"panel":"H","plane":"el-plane","theta":177,"gain":-31.5},
      {"panel":"H","plane":"el-plane","theta":179,"gain":-29.9},
      {"panel":"H","plane":"el-plane","theta":180,"gain":-30},

      {"panel":"H","plane":"az-plane","theta":-180,"gain":-30},
      {"panel":"H","plane":"az-plane","theta":-178,"gain":-32.5},
      {"panel":"H","plane":"az-plane","theta":-176,"gain":-36},
      {"panel":"H","plane":"az-plane","theta":-175.3,"gain":-38.2},
      {"panel":"H","plane":"az-plane","theta":-173.4,"gain":-36},
      {"panel":"H","plane":"az-plane","theta":-171.5,"gain":-40},
      {"panel":"H","plane":"az-plane","theta":-169.6,"gain":-42.8},
      {"panel":"H","plane":"az-plane","theta":-167.5,"gain":-40.5},
      {"panel":"H","plane":"az-plane","theta":-165.9,"gain":-40.5},
      {"panel":"H","plane":"az-plane","theta":-164,"gain":-43.5},
      {"panel":"H","plane":"az-plane","theta":-162,"gain":-42.5},
      {"panel":"H","plane":"az-plane","theta":-160.3,"gain":-45.8},
      {"panel":"H","plane":"az-plane","theta":-158.5,"gain":-44},
      {"panel":"H","plane":"az-plane","theta":-156.5,"gain":-45.5},
      {"panel":"H","plane":"az-plane","theta":-154.5,"gain":-44.5},
      {"panel":"H","plane":"az-plane","theta":-152.9,"gain":-45.5},
      {"panel":"H","plane":"az-plane","theta":-151,"gain":-44.6},
      {"panel":"H","plane":"az-plane","theta":-149,"gain":-46.2},
      {"panel":"H","plane":"az-plane","theta":-147,"gain":-45},
      {"panel":"H","plane":"az-plane","theta":-145,"gain":-46.4},
      {"panel":"H","plane":"az-plane","theta":-143.5,"gain":-45.2},
      {"panel":"H","plane":"az-plane","theta":-141.7,"gain":-46.5},
      {"panel":"H","plane":"az-plane","theta":-140,"gain":-45.5},
      {"panel":"H","plane":"az-plane","theta":-138,"gain":-46.8},
      {"panel":"H","plane":"az-plane","theta":-136,"gain":-45.6},
      {"panel":"H","plane":"az-plane","theta":-134,"gain":-47},
      {"panel":"H","plane":"az-plane","theta":-132,"gain":-46},
      {"panel":"H","plane":"az-plane","theta":-130.5,"gain":-47.3},
      {"panel":"H","plane":"az-plane","theta":-128.5,"gain":-46.2},
      {"panel":"H","plane":"az-plane","theta":-126.5,"gain":-47.5},
      {"panel":"H","plane":"az-plane","theta":-124.5,"gain":-46.5},
      {"panel":"H","plane":"az-plane","theta":-122.5,"gain":-47.6},
      {"panel":"H","plane":"az-plane","theta":-120.5,"gain":-46.6},
      {"panel":"H","plane":"az-plane","theta":-119.4,"gain":-47.7},
      {"panel":"H","plane":"az-plane","theta":-117.5,"gain":-46.8},
      {"panel":"H","plane":"az-plane","theta":-115.5,"gain":-47.8},
      {"panel":"H","plane":"az-plane","theta":-113.5,"gain":-46.8},
      {"panel":"H","plane":"az-plane","theta":-111.5,"gain":-47.9},
      {"panel":"H","plane":"az-plane","theta":-109.9,"gain":-47.2},
      {"panel":"H","plane":"az-plane","theta":-108,"gain":-47.6},
      {"panel":"H","plane":"az-plane","theta":-106,"gain":-46.6},
      {"panel":"H","plane":"az-plane","theta":-104,"gain":-47.5},
      {"panel":"H","plane":"az-plane","theta":-102,"gain":-46.4},
      {"panel":"H","plane":"az-plane","theta":-100.7,"gain":-46.5},
      {"panel":"H","plane":"az-plane","theta":-98.5,"gain":-46.2},
      {"panel":"H","plane":"az-plane","theta":-96.5,"gain":-45.6},
      {"panel":"H","plane":"az-plane","theta":-94.5,"gain":-45.6},
      {"panel":"H","plane":"az-plane","theta":-92.5,"gain":-44.8},
      {"panel":"H","plane":"az-plane","theta":-91.4,"gain":-44.6},
      {"panel":"H","plane":"az-plane","theta":-89.5,"gain":-43.4},
      {"panel":"H","plane":"az-plane","theta":-87.5,"gain":-42},
      {"panel":"H","plane":"az-plane","theta":-85.8,"gain":-40.5},
      {"panel":"H","plane":"az-plane","theta":-83.5,"gain":-39.6},
      {"panel":"H","plane":"az-plane","theta":-81,"gain":-38.8},
      {"panel":"H","plane":"az-plane","theta":-78.3,"gain":-37.5},
      {"panel":"H","plane":"az-plane","theta":-75.5,"gain":-36.5},
      {"panel":"H","plane":"az-plane","theta":-72.7,"gain":-36.3},
      {"panel":"H","plane":"az-plane","theta":-70,"gain":-37},
      {"panel":"H","plane":"az-plane","theta":-67.9,"gain":-38.6},
      {"panel":"H","plane":"az-plane","theta":-65.5,"gain":-41},
      {"panel":"H","plane":"az-plane","theta":-63.4,"gain":-42.8},
      {"panel":"H","plane":"az-plane","theta":-61.5,"gain":-39.5},
      {"panel":"H","plane":"az-plane","theta":-59.6,"gain":-34},
      {"panel":"H","plane":"az-plane","theta":-57.8,"gain":-36.5},
      {"panel":"H","plane":"az-plane","theta":-56,"gain":-36},
      {"panel":"H","plane":"az-plane","theta":-54,"gain":-33.5},
      {"panel":"H","plane":"az-plane","theta":-52,"gain":-32.5},
      {"panel":"H","plane":"az-plane","theta":-50.5,"gain":-35},
      {"panel":"H","plane":"az-plane","theta":-49.2,"gain":-38.2},
      {"panel":"H","plane":"az-plane","theta":-47.5,"gain":-33},
      {"panel":"H","plane":"az-plane","theta":-46,"gain":-30.5},
      {"panel":"H","plane":"az-plane","theta":-44.7,"gain":-33},
      {"panel":"H","plane":"az-plane","theta":-43,"gain":-35.2},
      {"panel":"H","plane":"az-plane","theta":-41,"gain":-30},
      {"panel":"H","plane":"az-plane","theta":-39,"gain":-28.5},
      {"panel":"H","plane":"az-plane","theta":-37.3,"gain":-29.2},
      {"panel":"H","plane":"az-plane","theta":-35.5,"gain":-25},
      {"panel":"H","plane":"az-plane","theta":-33.6,"gain":-25.5},
      {"panel":"H","plane":"az-plane","theta":-31.7,"gain":-27.3},
      {"panel":"H","plane":"az-plane","theta":-29.8,"gain":-24},
      {"panel":"H","plane":"az-plane","theta":-28,"gain":-21.2},
      {"panel":"H","plane":"az-plane","theta":-26,"gain":-22.5},
      {"panel":"H","plane":"az-plane","theta":-24.2,"gain":-23.5},
      {"panel":"H","plane":"az-plane","theta":-22.5,"gain":-21},
      {"panel":"H","plane":"az-plane","theta":-20.5,"gain":-19},
      {"panel":"H","plane":"az-plane","theta":-18.5,"gain":-16.5},
      {"panel":"H","plane":"az-plane","theta":-16.8,"gain":-13.7},
      {"panel":"H","plane":"az-plane","theta":-15,"gain":-11.5},
      {"panel":"H","plane":"az-plane","theta":-13.1,"gain":-9.1},
      {"panel":"H","plane":"az-plane","theta":-10.5,"gain":-6.5},
      {"panel":"H","plane":"az-plane","theta":-7.5,"gain":-3.8},
      {"panel":"H","plane":"az-plane","theta":-4.5,"gain":-1.5},
      {"panel":"H","plane":"az-plane","theta":-1.9,"gain":-0.4},
      {"panel":"H","plane":"az-plane","theta":0,"gain":0},
      {"panel":"H","plane":"az-plane","theta":1.9,"gain":-0.7},
      {"panel":"H","plane":"az-plane","theta":4.5,"gain":-3.2},
      {"panel":"H","plane":"az-plane","theta":7.5,"gain":-6.1},
      {"panel":"H","plane":"az-plane","theta":10,"gain":-9},
      {"panel":"H","plane":"az-plane","theta":13.1,"gain":-12.9},
      {"panel":"H","plane":"az-plane","theta":15.5,"gain":-15.5},
      {"panel":"H","plane":"az-plane","theta":18.7,"gain":-17.4},
      {"panel":"H","plane":"az-plane","theta":20.5,"gain":-18.2},
      {"panel":"H","plane":"az-plane","theta":22.4,"gain":-19},
      {"panel":"H","plane":"az-plane","theta":24.2,"gain":-22},
      {"panel":"H","plane":"az-plane","theta":26.1,"gain":-24.2},
      {"panel":"H","plane":"az-plane","theta":28,"gain":-24.6},
      {"panel":"H","plane":"az-plane","theta":30.5,"gain":-23.5},
      {"panel":"H","plane":"az-plane","theta":32.5,"gain":-26.5},
      {"panel":"H","plane":"az-plane","theta":35.5,"gain":-30.5},
      {"panel":"H","plane":"az-plane","theta":37.5,"gain":-30},
      {"panel":"H","plane":"az-plane","theta":39.5,"gain":-28.5},
      {"panel":"H","plane":"az-plane","theta":41.1,"gain":-28},
      {"panel":"H","plane":"az-plane","theta":43,"gain":-30.5},
      {"panel":"H","plane":"az-plane","theta":45,"gain":-34},
      {"panel":"H","plane":"az-plane","theta":46.6,"gain":-39.8},
      {"panel":"H","plane":"az-plane","theta":48.5,"gain":-37},
      {"panel":"H","plane":"az-plane","theta":50.5,"gain":-34},
      {"panel":"H","plane":"az-plane","theta":52.2,"gain":-32.6},
      {"panel":"H","plane":"az-plane","theta":54,"gain":-32.9},
      {"panel":"H","plane":"az-plane","theta":55.8,"gain":-34},
      {"panel":"H","plane":"az-plane","theta":57.8,"gain":-36},
      {"panel":"H","plane":"az-plane","theta":59.5,"gain":-41},
      {"panel":"H","plane":"az-plane","theta":61.5,"gain":-47},
      {"panel":"H","plane":"az-plane","theta":63.4,"gain":-52.6},
      {"panel":"H","plane":"az-plane","theta":65,"gain":-48},
      {"panel":"H","plane":"az-plane","theta":67,"gain":-42.5},
      {"panel":"H","plane":"az-plane","theta":69,"gain":-38.2},
      {"panel":"H","plane":"az-plane","theta":71,"gain":-37},
      {"panel":"H","plane":"az-plane","theta":72.5,"gain":-36.3},
      {"panel":"H","plane":"az-plane","theta":74.6,"gain":-36.7},
      {"panel":"H","plane":"az-plane","theta":76.5,"gain":-38},
      {"panel":"H","plane":"az-plane","theta":78.5,"gain":-38.2},
      {"panel":"H","plane":"az-plane","theta":80,"gain":-39.2},
      {"panel":"H","plane":"az-plane","theta":82,"gain":-39},
      {"panel":"H","plane":"az-plane","theta":84,"gain":-39.8},
      {"panel":"H","plane":"az-plane","theta":86,"gain":-40.5},
      {"panel":"H","plane":"az-plane","theta":88,"gain":-40.2},
      {"panel":"H","plane":"az-plane","theta":89.5,"gain":-41.2},
      {"panel":"H","plane":"az-plane","theta":91.5,"gain":-41},
      {"panel":"H","plane":"az-plane","theta":93.5,"gain":-41.8},
      {"panel":"H","plane":"az-plane","theta":95.5,"gain":-41.4},
      {"panel":"H","plane":"az-plane","theta":97.5,"gain":-42.2},
      {"panel":"H","plane":"az-plane","theta":99.5,"gain":-41.7},
      {"panel":"H","plane":"az-plane","theta":100.7,"gain":-42.4},
      {"panel":"H","plane":"az-plane","theta":103,"gain":-42},
      {"panel":"H","plane":"az-plane","theta":105,"gain":-42.8},
      {"panel":"H","plane":"az-plane","theta":107,"gain":-42.2},
      {"panel":"H","plane":"az-plane","theta":109,"gain":-43},
      {"panel":"H","plane":"az-plane","theta":111.9,"gain":-42.8},
      {"panel":"H","plane":"az-plane","theta":114,"gain":-42.3},
      {"panel":"H","plane":"az-plane","theta":116,"gain":-43.2},
      {"panel":"H","plane":"az-plane","theta":118,"gain":-42.6},
      {"panel":"H","plane":"az-plane","theta":120,"gain":-43.3},
      {"panel":"H","plane":"az-plane","theta":123,"gain":-42.6},
      {"panel":"H","plane":"az-plane","theta":125,"gain":-43.4},
      {"panel":"H","plane":"az-plane","theta":127,"gain":-42.6},
      {"panel":"H","plane":"az-plane","theta":129,"gain":-43.2},
      {"panel":"H","plane":"az-plane","theta":131,"gain":-42.4},
      {"panel":"H","plane":"az-plane","theta":134.2,"gain":-42.8},
      {"panel":"H","plane":"az-plane","theta":136.5,"gain":-42},
      {"panel":"H","plane":"az-plane","theta":138.5,"gain":-42.6},
      {"panel":"H","plane":"az-plane","theta":141,"gain":-41.6},
      {"panel":"H","plane":"az-plane","theta":143,"gain":-42},
      {"panel":"H","plane":"az-plane","theta":145.4,"gain":-41.6},
      {"panel":"H","plane":"az-plane","theta":147.5,"gain":-41},
      {"panel":"H","plane":"az-plane","theta":150,"gain":-41.5},
      {"panel":"H","plane":"az-plane","theta":152,"gain":-40.6},
      {"panel":"H","plane":"az-plane","theta":154.5,"gain":-41},
      {"panel":"H","plane":"az-plane","theta":156.6,"gain":-40.5},
      {"panel":"H","plane":"az-plane","theta":158.5,"gain":-39.5},
      {"panel":"H","plane":"az-plane","theta":160.5,"gain":-40},
      {"panel":"H","plane":"az-plane","theta":162.5,"gain":-39},
      {"panel":"H","plane":"az-plane","theta":164,"gain":-39},
      {"panel":"H","plane":"az-plane","theta":165.5,"gain":-37.5},
      {"panel":"H","plane":"az-plane","theta":166.5,"gain":-36.5},
      {"panel":"H","plane":"az-plane","theta":168.5,"gain":-35.2},
      {"panel":"H","plane":"az-plane","theta":170,"gain":-36.5},
      {"panel":"H","plane":"az-plane","theta":171.5,"gain":-37.5},
      {"panel":"H","plane":"az-plane","theta":173.4,"gain":-39.8},
      {"panel":"H","plane":"az-plane","theta":175.3,"gain":-38.2},
      {"panel":"H","plane":"az-plane","theta":177,"gain":-34},
      {"panel":"H","plane":"az-plane","theta":179,"gain":-30.6},
      {"panel":"H","plane":"az-plane","theta":180,"gain":-30}
    ],
    "boxes": [
      {"panel":"V","plane":"el-plane","theta":26.3,"theta2":133.9,"gain":-2.9,"gain2":-5.9,"label":"HPBW: 9.3326 deg"},
      {"panel":"V","plane":"az-plane","theta":24.1,"theta2":139.4,"gain":-7.3,"gain2":-10.4,"label":"HPBW: 10.727 deg"},
      {"panel":"V","plane":"el-plane","theta":-134.7,"theta2":-45,"gain":-8.9,"gain2":-11.9,"label":"SLL: 20.136 dB"},
      {"panel":"V","plane":"az-plane","theta":-171.2,"theta2":-65.1,"gain":-17.3,"gain2":-20.2,"label":"SLL:37.6262 dB"},
      {"panel":"H","plane":"az-plane","theta":30.5,"theta2":138,"gain":-3.4,"gain2":-6.2,"label":"HPBW: 9.3326 deg"},
      {"panel":"H","plane":"el-plane","theta":28.7,"theta2":139,"gain":-7.9,"gain2":-10.5,"label":"HPBW: 10.7295 deg"},
      {"panel":"H","plane":"az-plane","theta":-162,"theta2":-59.6,"gain":-8.7,"gain2":-11.6,"label":"SLL: 20.123 dB"},
      {"panel":"H","plane":"el-plane","theta":-164.8,"theta2":-59.6,"gain":-18.1,"gain2":-21.1,"label":"SLL: 37.6508 dB"}
    ],
    "links": [
      {"panel":"V","plane":"el-plane","theta":-4.7,"theta2":26.3,"gain":-5.2,"gain2":-4.9},
      {"panel":"V","plane":"el-plane","theta":-4.7,"theta2":4.6,"gain":-5.2,"gain2":-5.2},
      {"panel":"V","plane":"az-plane","theta":2.5,"theta2":24.1,"gain":-5.3,"gain2":-7.6},
      {"panel":"V","plane":"az-plane","theta":-5.4,"theta2":5.4,"gain":-5.3,"gain2":-5.3},
      {"panel":"V","plane":"el-plane","theta":-45,"theta2":-15.2,"gain":-10.75,"gain2":-10.75},
      {"panel":"V","plane":"el-plane","theta":-15.2,"theta2":-15.2,"gain":-1.5,"gain2":-20.1},
      {"panel":"V","plane":"el-plane","theta":-15.2,"theta2":-2.5,"gain":-1.5,"gain2":-0.1},
      {"panel":"V","plane":"az-plane","theta":-65.1,"theta2":-36.6,"gain":-18.6,"gain2":-18.6},
      {"panel":"V","plane":"az-plane","theta":-36.6,"theta2":-36.6,"gain":-0.4,"gain2":-37.6},
      {"panel":"H","plane":"az-plane","theta":3.7,"theta2":30.5,"gain":-5.7,"gain2":-4.6},
      {"panel":"H","plane":"az-plane","theta":-4.7,"theta2":4.7,"gain":-5.7,"gain2":-5.7},
      {"panel":"H","plane":"el-plane","theta":3.7,"theta2":28.7,"gain":-6.0,"gain2":-8.3},
      {"panel":"H","plane":"el-plane","theta":-5.4,"theta2":5.4,"gain":-6.0,"gain2":-6.0},
      {"panel":"H","plane":"az-plane","theta":-59.6,"theta2":-14.9,"gain":-10.4,"gain2":-10.9},
      {"panel":"H","plane":"az-plane","theta":-14.9,"theta2":-14.9,"gain":-1.65,"gain2":-20.1},
      {"panel":"H","plane":"az-plane","theta":-14.9,"theta2":-1,"gain":-1.65,"gain2":-0.1},
      {"panel":"H","plane":"el-plane","theta":-59.6,"theta2":-36.1,"gain":-19.4,"gain2":-19.1},
      {"panel":"H","plane":"el-plane","theta":-36.1,"theta2":-36.1,"gain":-0.3,"gain2":-37.65}
    ],
    "notes": [
      {"panel":"V","theta":-178.5,"gain":-0.6,"label":"Gain: 23.97 dBi"},
      {"panel":"H","theta":-178,"gain":-0.6,"label":"Gain: 23.97 dBi"}
    ]
  },
  "hconcat": [
    {
      "width": 328, "height": 308,
      "title": "V-Polarised Radiation Pattern",
      "encoding": {
        "x": {"field": "theta", "type": "quantitative", "scale": {"domain": [-180, 180], "nice": false, "zero": false}, "axis": {"title": "Theta [deg]", "values": [-180, -150, -120, -90, -60, -30, 0, 30, 60, 90, 120, 150, 180]}},
        "y": {"field": "gain", "type": "quantitative", "scale": {"domain": [-70, 0], "nice": false, "zero": false}, "axis": {"title": "Normalised Gain [dBi]", "values": [0, -10, -20, -30, -40, -50, -60, -70]}}
      },
      "layer": [
        {
          "data": {"name": "curves"},
          "transform": [{"filter": "datum.panel == 'V' && datum.plane == 'az-plane'"}],
          "mark": {"type": "line", "strokeWidth": 2.6},
          "encoding": {
            "color": {"field": "plane", "type": "nominal", "scale": {"domain": ["el-plane", "az-plane"], "range": ["#0a6ec6", "#00b050"]}, "legend": {"legendX": 80, "legendY": -24, "columnPadding": 2}},
            "strokeDash": {"field": "plane", "type": "nominal", "scale": {"domain": ["el-plane", "az-plane"], "range": [[1, 0], [9, 5]]}, "legend": {"legendX": 80, "legendY": -24, "columnPadding": 2}}
          }
        },
        {
          "data": {"name": "curves"},
          "transform": [{"filter": "datum.panel == 'V' && datum.plane == 'el-plane'"}],
          "mark": {"type": "line", "strokeWidth": 2.6},
          "encoding": {
            "color": {"field": "plane", "type": "nominal"},
            "strokeDash": {"field": "plane", "type": "nominal"}
          }
        },
        {
          "data": {"name": "links"},
          "transform": [{"filter": "datum.panel == 'V' && datum.plane == 'el-plane'"}],
          "mark": {"type": "rule", "color": "#1f4e79", "strokeWidth": 1.5},
          "encoding": {"x2": {"field": "theta2"}, "y2": {"field": "gain2"}}
        },
        {
          "data": {"name": "links"},
          "transform": [{"filter": "datum.panel == 'V' && datum.plane == 'az-plane'"}],
          "mark": {"type": "rule", "color": "#127a3a", "strokeWidth": 1.5},
          "encoding": {"x2": {"field": "theta2"}, "y2": {"field": "gain2"}}
        },
        {
          "data": {"name": "boxes"},
          "transform": [{"filter": "datum.panel == 'V' && datum.plane == 'el-plane'"}],
          "mark": {"type": "rect", "fill": "#5ab1f3", "stroke": "#1f4e79", "strokeWidth": 1.5},
          "encoding": {"x2": {"field": "theta2"}, "y2": {"field": "gain2"}}
        },
        {
          "data": {"name": "boxes"},
          "transform": [{"filter": "datum.panel == 'V' && datum.plane == 'az-plane'"}],
          "mark": {"type": "rect", "fill": "#3fe383", "stroke": "#12803c", "strokeWidth": 2.2, "strokeDash": [7, 3]},
          "encoding": {"x2": {"field": "theta2"}, "y2": {"field": "gain2"}}
        },
        {
          "data": {"name": "boxes"},
          "transform": [{"filter": "datum.panel == 'V'"}],
          "mark": {"type": "text", "align": "left", "baseline": "top", "dx": 3, "dy": 1.5, "font": "Liberation Sans", "fontSize": 11, "color": "#000"},
          "encoding": {"text": {"field": "label"}}
        },
        {
          "data": {"name": "notes"},
          "transform": [{"filter": "datum.panel == 'V'"}],
          "mark": {"type": "text", "align": "left", "baseline": "top", "font": "Liberation Sans", "fontSize": 12.5, "color": "#000"},
          "encoding": {"text": {"field": "label"}}
        }
      ]
    },
    {
      "width": 322, "height": 308,
      "title": "H-Polarised Radiation Pattern",
      "encoding": {
        "x": {"field": "theta", "type": "quantitative", "scale": {"domain": [-180, 180], "nice": false, "zero": false}, "axis": {"title": "Theta [deg]", "values": [-180, -150, -120, -90, -60, -30, 0, 30, 60, 90, 120, 150, 180]}},
        "y": {"field": "gain", "type": "quantitative", "scale": {"domain": [-70, 0], "nice": false, "zero": false}, "axis": {"title": "Normalised Gain [dBi]", "values": [0, -10, -20, -30, -40, -50, -60, -70]}}
      },
      "layer": [
        {
          "data": {"name": "curves"},
          "transform": [{"filter": "datum.panel == 'H' && datum.plane == 'az-plane'"}],
          "mark": {"type": "line", "strokeWidth": 2.6},
          "encoding": {
            "color": {"field": "plane", "type": "nominal", "scale": {"domain": ["el-plane", "az-plane"], "range": ["#0a6ec6", "#00b050"]}, "legend": {"legendX": 66, "legendY": -24, "columnPadding": 10}},
            "strokeDash": {"field": "plane", "type": "nominal", "scale": {"domain": ["el-plane", "az-plane"], "range": [[1, 0], [9, 5]]}, "legend": {"legendX": 66, "legendY": -24, "columnPadding": 10}}
          }
        },
        {
          "data": {"name": "curves"},
          "transform": [{"filter": "datum.panel == 'H' && datum.plane == 'el-plane'"}],
          "mark": {"type": "line", "strokeWidth": 2.6},
          "encoding": {
            "color": {"field": "plane", "type": "nominal"},
            "strokeDash": {"field": "plane", "type": "nominal"}
          }
        },
        {
          "data": {"name": "links"},
          "transform": [{"filter": "datum.panel == 'H' && datum.plane == 'el-plane'"}],
          "mark": {"type": "rule", "color": "#1f4e79", "strokeWidth": 1.5},
          "encoding": {"x2": {"field": "theta2"}, "y2": {"field": "gain2"}}
        },
        {
          "data": {"name": "links"},
          "transform": [{"filter": "datum.panel == 'H' && datum.plane == 'az-plane'"}],
          "mark": {"type": "rule", "color": "#127a3a", "strokeWidth": 1.5},
          "encoding": {"x2": {"field": "theta2"}, "y2": {"field": "gain2"}}
        },
        {
          "data": {"name": "boxes"},
          "transform": [{"filter": "datum.panel == 'H' && datum.plane == 'el-plane'"}],
          "mark": {"type": "rect", "fill": "#5ab1f3", "stroke": "#1f4e79", "strokeWidth": 1.5},
          "encoding": {"x2": {"field": "theta2"}, "y2": {"field": "gain2"}}
        },
        {
          "data": {"name": "boxes"},
          "transform": [{"filter": "datum.panel == 'H' && datum.plane == 'az-plane'"}],
          "mark": {"type": "rect", "fill": "#3fe383", "stroke": "#12803c", "strokeWidth": 2.2, "strokeDash": [7, 3]},
          "encoding": {"x2": {"field": "theta2"}, "y2": {"field": "gain2"}}
        },
        {
          "data": {"name": "boxes"},
          "transform": [{"filter": "datum.panel == 'H'"}],
          "mark": {"type": "text", "align": "left", "baseline": "top", "dx": 3, "dy": 1.5, "font": "Liberation Sans", "fontSize": 11, "color": "#000"},
          "encoding": {"text": {"field": "label"}}
        },
        {
          "data": {"name": "notes"},
          "transform": [{"filter": "datum.panel == 'H'"}],
          "mark": {"type": "text", "align": "left", "baseline": "top", "font": "Liberation Sans", "fontSize": 12.5, "color": "#000"},
          "encoding": {"text": {"field": "label"}}
        }
      ]
    }
  ]
}
